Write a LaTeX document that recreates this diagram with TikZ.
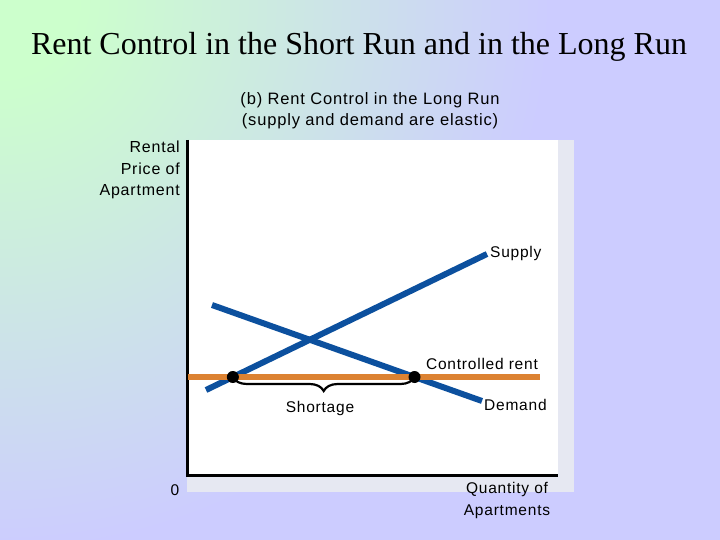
\documentclass[tikz,border=0pt]{standalone}
\usepackage{fontspec}
\setmainfont{Liberation Serif}
\newfontfamily\arial[LetterSpace=5]{Liberation Sans}
\usetikzlibrary{decorations.pathreplacing,intersections}
\definecolor{bggreen}{RGB}{204,255,204}
\definecolor{bglav}{RGB}{204,204,255}
\definecolor{curveblue}{RGB}{12,80,158}
\definecolor{rentorange}{RGB}{220,130,50}
\definecolor{shadowgrey}{RGB}{230,232,242}
\pgfdeclareradialshading{bgshade}{\pgfpoint{0bp}{0bp}}{color(0bp)=(bggreen); color(2bp)=(bggreen); color(14.5bp)=(bglav); color(50bp)=(bglav)}
\begin{document}
\begin{tikzpicture}[x=1pt,y=-1pt,
  lbl/.style={font=\arial\fontsize{15.5}{21.5}\selectfont, inner sep=0pt},
  sublbl/.style={font=\arial\fontsize{16.5}{21}\selectfont, inner sep=0pt},
  curve/.style={line width=6pt, draw=curveblue},
  rentline/.style={line width=6pt, draw=rentorange},
  axisline/.style={line width=3pt, draw=black},
  dotmark/.style={circle, fill=black, minimum size=12pt, inner sep=0pt}]
\useasboundingbox (0,0) rectangle (720,540);
\begin{scope}
  \clip (0,0) rectangle (720,540);
  \shade[shading=bgshade] (0,0) circle[radius=950];
\end{scope}
% title
\node[font=\fontsize{32}{38}\selectfont, inner sep=0pt] (title) at (359,47) {Rent Control in the Short Run and in the Long Run};
\node[sublbl] (sub1) at (370,100) {(b) Rent Control in the Long Run};
\node[sublbl] (sub2) at (370,121) {(supply and demand are elastic)};
% panel
\fill[shadowgrey] (187,140) rectangle (574,492);
\fill[white] (187,140) rectangle (558,475);
\draw[axisline] (187.5,140) -- (187.5,475) -- (558,475);
% curves
\coordinate (s1) at (206,390);
\coordinate (s2) at (487,254);
\coordinate (d1) at (212,305);
\coordinate (d2) at (482,401);
\coordinate (r1) at (188,377);
\coordinate (r2) at (540,377);
\draw[curve, name path=supply] (s1) -- (s2);
\draw[curve, name path=demand] (d1) -- (d2);
\draw[rentline, name path=rent] (r1) -- (r2);
\path[name intersections={of=supply and rent, by=qs}];
\path[name intersections={of=demand and rent, by=qd}];
\node[dotmark] (dotS) at (qs) {};
\node[dotmark] (dotD) at (qd) {};
\draw[decorate, decoration={brace, amplitude=14pt, mirror}, line width=2.2pt] (dotS.center) -- (dotD.center);
% labels
\node[lbl, anchor=west] (supplyL) at (490,253) {Supply};
\node[lbl] (rentL) at (482,364) {Controlled rent};
\node[lbl, anchor=west] (demandL) at (484,405) {Demand};
\node[lbl] (shortL) at (320,408) {Shortage};
\node[lbl, align=right, anchor=east, font=\arial\fontsize{16}{21.5}\selectfont] (yL) at (180,170) {Rental\\Price of\\Apartment};
\node[lbl] (zeroL) at (175,490) {0};
\node[lbl, align=center] (xL) at (507,500.5) {Quantity of\\Apartments};
\end{tikzpicture}
\end{document}
